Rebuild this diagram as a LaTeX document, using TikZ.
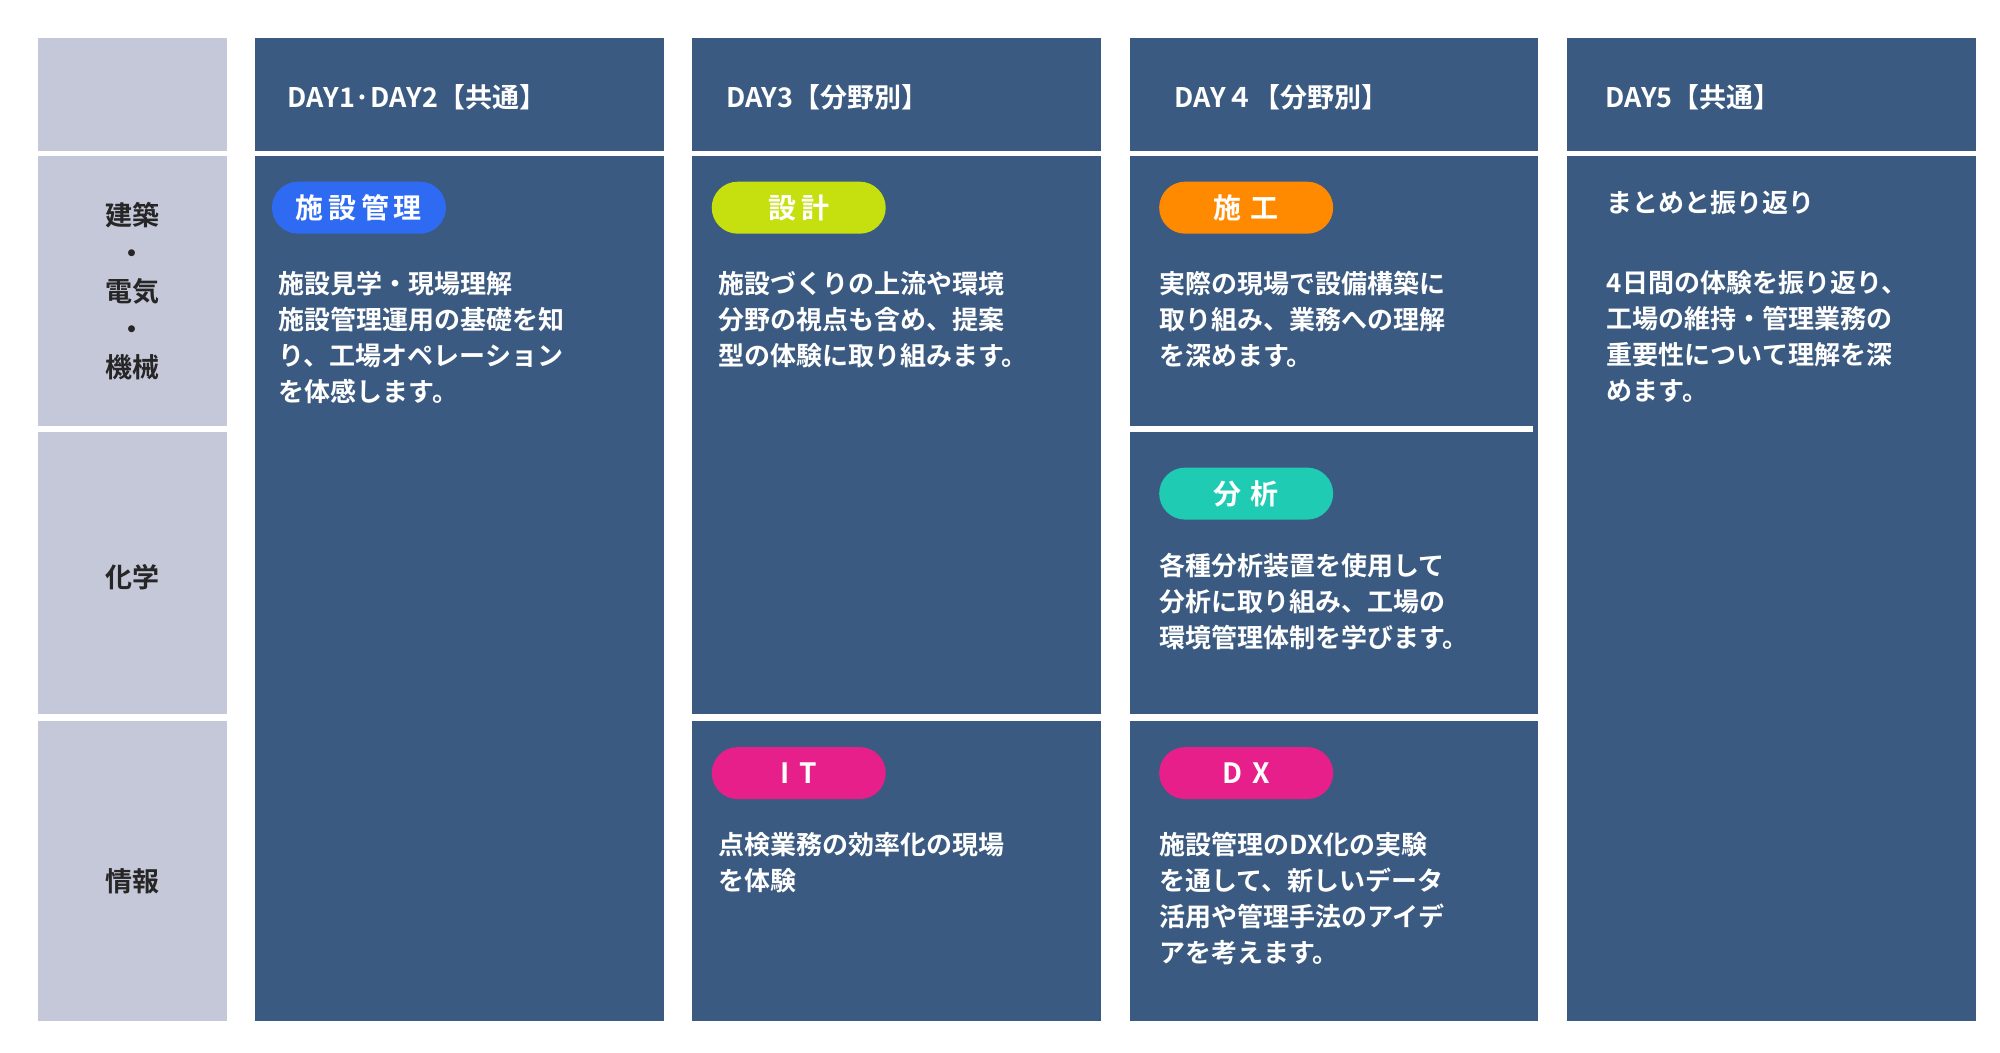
\documentclass[tikz,border=0pt]{standalone}
\usepackage{fontspec}
\setmainfont{Noto Sans CJK JP Bold}
\usetikzlibrary{positioning}
\definecolor{sideColor}{HTML}{C5C8D9}
\definecolor{cellColor}{HTML}{3B5A81}
\definecolor{blueTag}{HTML}{2E6BF2}
\definecolor{limeTag}{HTML}{C6E00F}
\definecolor{orangeTag}{HTML}{FF8A00}
\definecolor{tealTag}{HTML}{1FCBB2}
\definecolor{pinkTag}{HTML}{E61F8B}
\begin{document}
\begin{tikzpicture}[x=0.641pt, y=-0.641pt,
    cell/.style={fill=cellColor, draw=none},
    side/.style={fill=sideColor, draw=none},
    head/.style={anchor=west, text=white, font=\fontsize{13.5}{16}\selectfont, inner sep=0pt},
    sidetext/.style={align=center, text=black!85, font=\fontsize{13.5}{19}\selectfont},
    body/.style={anchor=north west, align=left, text=white, inner sep=0pt, font=\fontsize{13}{18}\selectfont},
    tag/.style={rounded corners=13pt, minimum width=87pt, minimum height=26pt, inner sep=0pt, text=white, font=\fontsize{14}{16}\selectfont}
]
    \useasboundingbox[fill=white] (0,0) rectangle (1560,821.3);
    % side column
    \fill[side] (30,30) rectangle (177,118);
    \fill[side] (30,122) rectangle (177,332);
    \fill[side] (30,337) rectangle (177,557);
    \fill[side] (30,562) rectangle (177,796);
    \node[sidetext] (arch) at (103,227) {建築\\・\\電気\\・\\機械};
    \node[sidetext] (chem) at (103,450) {化学};
    \node[sidetext] (info) at (103,687) {情報};
    % headers
    \foreach \x in {199,540,881,1222}
        \fill[cell] (\x,30) rectangle ++(319,88);
    \node[head] (h1) at (224,76) {DAY1·DAY2【共通】};
    \node[head] (h2) at (566,76) {DAY3【分野別】};
    \node[head] (h3) at (916,76) {DAY４【分野別】};
    \node[head] (h4) at (1252,76) {DAY5【共通】};
    % body cells
    \fill[cell] (199,122) rectangle (518,796);
    \fill[cell] (540,122) rectangle (859,557);
    \fill[cell] (540,562) rectangle (859,796);
    \fill[cell] (881,122) rectangle (1200,557);
    \fill[white] (881,332) rectangle (1196,337);
    \fill[cell] (881,562) rectangle (1200,796);
    \fill[cell] (1222,122) rectangle (1541,796);
    % day 1-2
    \node[tag, fill=blueTag] (facility) at (280,162) {施\,設\,管\,理};
    \node[body] (t1) at (217,211) {施設見学・現場理解\\施設管理運用の基礎を知\\り、工場オペレーション\\を体感します。};
    % day 3
    \node[tag, fill=limeTag] (design) at (623,162) {設\,計};
    \node[body] (t2) at (560,211) {施設づくりの上流や環境\\分野の視点も含め、提案\\型の体験に取り組みます。};
    \node[tag, fill=pinkTag] (it) at (623,603) {I\,\,T};
    \node[body] (t3) at (560,649) {点検業務の効率化の現場\\を体験};
    % day 4
    \node[tag, fill=orangeTag] (build) at (972,162) {施\,\,工};
    \node[body] (t4) at (904,211) {実際の現場で設備構築に\\取り組み、業務への理解\\を深めます。};
    \node[tag, fill=tealTag] (analysis) at (972,385) {分\,\,析};
    \node[body] (t5) at (904,431) {各種分析装置を使用して\\分析に取り組み、工場の\\環境管理体制を学びます。};
    \node[tag, fill=pinkTag] (dx) at (972,603) {D\,\,X};
    \node[body] (t6) at (904,649) {施設管理のDX化の実験\\を通して、新しいデータ\\活用や管理手法のアイデ\\アを考えます。};
    % day 5
    \node[body] (t7) at (1253,148) {まとめと振り返り};
    \node[body] (t8) at (1253,211) {4日間の体験を振り返り、\\工場の維持・管理業務の\\重要性について理解を深\\めます。};
\end{tikzpicture}
\end{document}
